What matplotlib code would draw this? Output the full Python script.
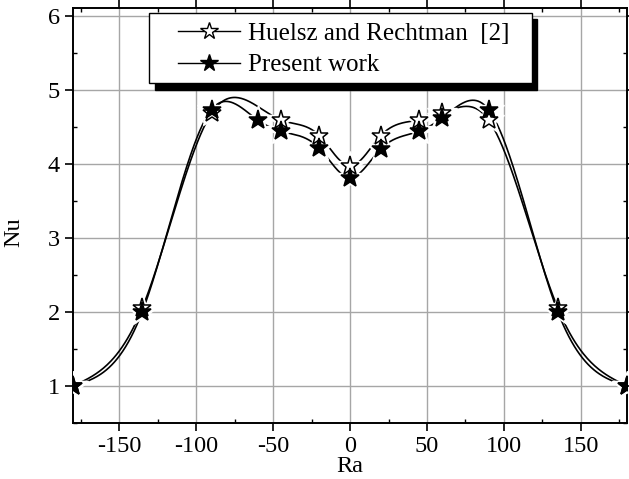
import numpy as np
import matplotlib
matplotlib.use('Agg')
import matplotlib.pyplot as plt
from matplotlib.patches import Rectangle

# Nu vs Ra
ra_present = [-180, -135, -90, -60, -45, -20, 0, 20, 45, 60, 90, 135, 180]
nu_present = [1.0, 2.0, 4.73, 4.59, 4.44, 4.21, 3.81, 4.20, 4.44, 4.62, 4.73, 2.0, 1.0]

ra_huelsz = [-180, -135, -90, -45, -20, 0, 20, 45, 60, 90, 135, 180]
nu_huelsz = [1.0, 2.05, 4.68, 4.59, 4.38, 3.97, 4.38, 4.59, 4.68, 4.59, 2.05, 1.0]

label_huelsz = 'Huelsz and Rechtman  [2]'
label_present = 'Present work'


def spline_curve(x, y, n=600):
    # natural cubic spline through the data points (smooth connecting line)
    x = np.asarray(x, float)
    y = np.asarray(y, float)
    h = np.diff(x)
    m = len(x)
    A = np.zeros((m, m))
    b = np.zeros(m)
    A[0, 0] = 1
    A[-1, -1] = 1
    for i in range(1, m - 1):
        A[i, i - 1] = h[i - 1]
        A[i, i] = 2 * (h[i - 1] + h[i])
        A[i, i + 1] = h[i]
        b[i] = 6 * ((y[i + 1] - y[i]) / h[i] - (y[i] - y[i - 1]) / h[i - 1])
    M = np.linalg.solve(A, b)
    xs = np.linspace(x[0], x[-1], n)
    idx = np.clip(np.searchsorted(x, xs) - 1, 0, m - 2)
    x0, x1 = x[idx], x[idx + 1]
    hh = x1 - x0
    t0 = x1 - xs
    t1 = xs - x0
    ys = (M[idx] * t0 ** 3 + M[idx + 1] * t1 ** 3) / (6 * hh) \
        + (y[idx] / hh - M[idx] * hh / 6) * t0 \
        + (y[idx + 1] / hh - M[idx + 1] * hh / 6) * t1
    return xs, ys


plt.rcParams['font.family'] = 'Liberation Serif'
plt.rcParams['axes.unicode_minus'] = False

fig = plt.figure(figsize=(6.29, 4.79), dpi=100)
ax = fig.add_axes([0.116, 0.117, 0.881, 0.866])

# curves
for rx, ny in [(ra_huelsz, nu_huelsz), (ra_present, nu_present)]:
    xs, ys = spline_curve(rx, ny)
    ax.plot(xs, ys, color='black', lw=1.2, zorder=2)

# white masks so the curves stop short of the stars
ax.plot(ra_huelsz, nu_huelsz, ls='none', marker='*', ms=22, color='white', zorder=3)
ax.plot(ra_present, nu_present, ls='none', marker='*', ms=22, color='white', zorder=3)

ax.plot(ra_huelsz, nu_huelsz, ls='none', marker='*', ms=14, mfc='white',
        mec='black', mew=1.1, zorder=4)
ax.plot(ra_present, nu_present, ls='none', marker='*', ms=14, mfc='black',
        mec='black', mew=1.1, zorder=5)

ax.set_xlim(-180, 180)
ax.set_ylim(0.5, 6.1)
ax.set_xticks([-150, -100, -50, 0, 50, 100, 150])
ax.set_yticks([1, 2, 3, 4, 5, 6])
ax.set_xticks(np.arange(-175, 180, 50), minor=True)
ax.set_yticks(np.arange(0.5, 6.1, 1.0), minor=True)
ax.grid(True, which='major', color='#a6a6a6', lw=1.0)
ax.set_axisbelow(True)

ax.tick_params(which='major', direction='out', length=5.5, width=1.2,
               labelsize=17.5, pad=4)
ax.tick_params(which='minor', direction='in', length=3, width=1.0)
ax.tick_params(which='both', top=True, right=True)
for spine in ax.spines.values():
    spine.set_linewidth(1.4)

ax.set_xlabel('Ra', fontsize=17.5, labelpad=-1)
ax.set_ylabel('Nu', fontsize=17.5)
ax.yaxis.set_label_coords(-0.088, 0.46)

# legend box with a solid black shadow
ax.add_patch(Rectangle((0.148, 0.803), 0.689, 0.170, transform=ax.transAxes,
                       facecolor='black', edgecolor='black', zorder=6, clip_on=False))
ax.add_patch(Rectangle((0.137, 0.819), 0.691, 0.169, transform=ax.transAxes,
                       facecolor='white', edgecolor='black', lw=1.0, zorder=7,
                       clip_on=False))

h1, = ax.plot([], [], color='black', lw=1.0, marker='*', ms=13, mfc='white', mec='black')
h2, = ax.plot([], [], color='black', lw=1.0, marker='*', ms=13, mfc='black', mec='black')
leg = ax.legend([h1, h2], [label_huelsz, label_present], loc='upper left',
                bbox_to_anchor=(0.189, 0.965), frameon=False, fontsize=18,
                borderpad=0, borderaxespad=0, handlelength=2.5,
                handletextpad=0.3, labelspacing=0.35)
leg.set_zorder(8)

fig.savefig('out.png', dpi=100)
